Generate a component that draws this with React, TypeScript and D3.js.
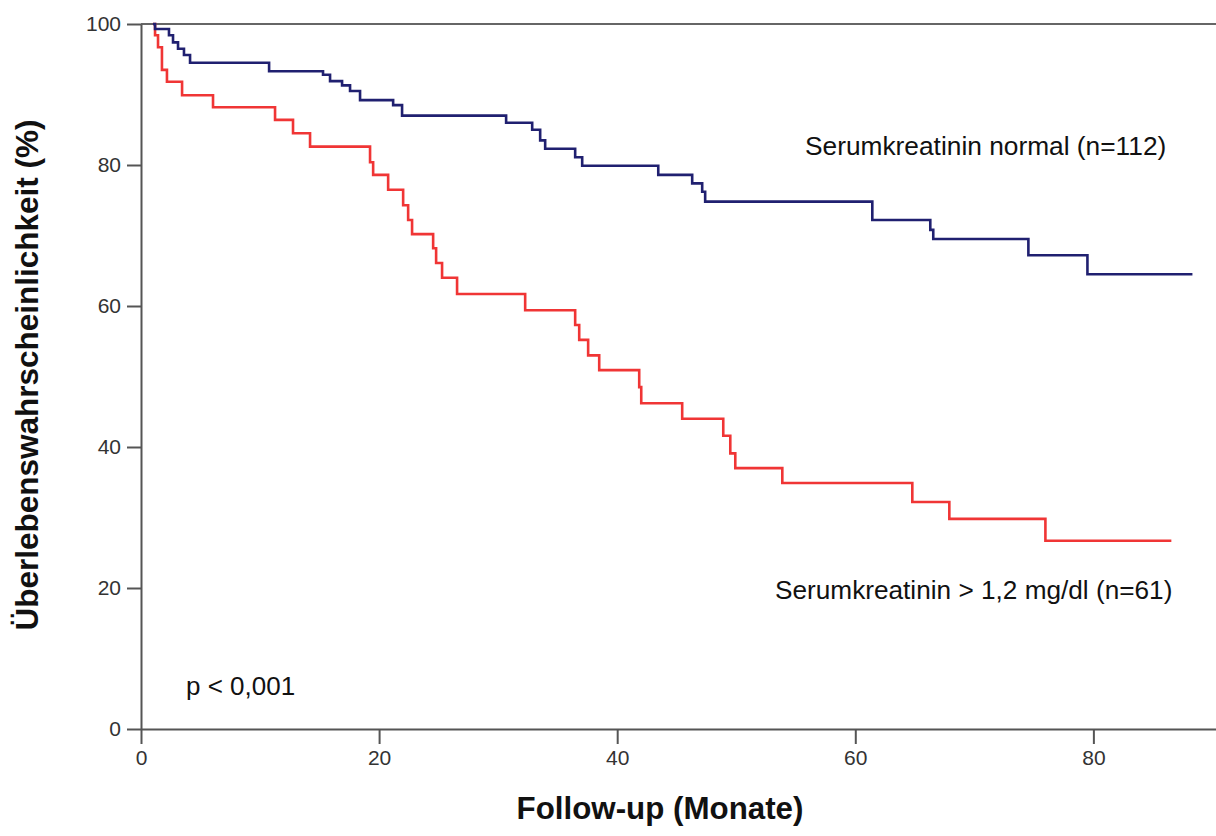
import { useEffect, useRef } from "react";
import * as d3 from "d3";

// Kaplan-Meier steps (months, survival %)
const normalTimes = [1.0, 1.18, 2.35, 2.69, 3.11, 3.61, 4.12, 10.76, 15.29, 15.88, 16.89, 17.56, 18.4, 21.18, 21.93, 30.67, 32.86, 33.53, 33.95, 36.47, 37.06, 43.45, 46.3, 47.14, 47.39, 61.43, 66.3, 66.55, 74.54, 79.5, 88.32];
const normalSurv = [100, 99.3, 98.4, 97.4, 96.5, 95.6, 94.5, 93.3, 92.8, 91.9, 91.3, 90.5, 89.2, 88.5, 87.0, 86.0, 85.0, 83.5, 82.3, 81.1, 79.9, 78.6, 77.4, 76.2, 74.8, 72.2, 70.8, 69.5, 67.2, 64.5, 64.5];

const highTimes = [1.0, 1.18, 1.43, 1.76, 2.18, 3.45, 6.05, 11.26, 12.77, 14.2, 19.24, 19.5, 20.76, 22.02, 22.44, 22.77, 24.54, 24.79, 25.29, 26.55, 32.27, 36.47, 36.81, 37.56, 38.49, 41.85, 42.02, 45.46, 48.91, 49.5, 49.92, 53.87, 64.79, 67.9, 75.97, 86.55];
const highSurv = [100, 98.4, 96.7, 93.5, 91.8, 89.9, 88.2, 86.4, 84.5, 82.6, 80.4, 78.6, 76.5, 74.3, 72.2, 70.2, 68.2, 66.1, 64.0, 61.7, 59.4, 57.3, 55.2, 53.0, 50.9, 48.5, 46.2, 44.0, 41.6, 39.1, 37.0, 34.9, 32.2, 29.8, 26.7, 26.7];

const xTicks = [0, 20, 40, 60, 80];
const yTicks = [0, 20, 40, 60, 80, 100];

const labelNormal = "Serumkreatinin normal (n=112)";
const labelHigh = "Serumkreatinin > 1,2 mg/dl (n=61)";
const pText = "p < 0,001";
const xTitle = "Follow-up (Monate)";
const yTitle = "Überlebenswahrscheinlichkeit (%)";

const FONT = "Arial, 'Liberation Sans', sans-serif";

function SurvivalChart() {
  const ref = useRef(null);

  useEffect(() => {
    const width = 1216;
    const height = 836;
    const left = 141;
    const top = 24;
    const bottom = 729;

    d3.select(ref.current).selectAll("*").remove();

    const svg = d3
      .select(ref.current)
      .append("svg")
      .attr("width", width)
      .attr("height", height)
      .style("display", "block");

    svg.append("rect").attr("width", width).attr("height", height).attr("fill", "#fff");

    const x = d3.scaleLinear().domain([0, 90.3]).range([left, width]);
    const y = d3.scaleLinear().domain([0, 100]).range([bottom, top]);

    // top frame line
    svg
      .append("line")
      .attr("x1", left)
      .attr("x2", width)
      .attr("y1", y(100))
      .attr("y2", y(100))
      .attr("stroke", "#666")
      .attr("stroke-width", 2);

    const xAxis = svg
      .append("g")
      .attr("transform", `translate(0,${bottom})`)
      .call(d3.axisBottom(x).tickValues(xTicks).tickSize(15).tickSizeOuter(0).tickPadding(6));

    const yAxis = svg
      .append("g")
      .attr("transform", `translate(${left},0)`)
      .call(d3.axisLeft(y).tickValues(yTicks).tickSize(14).tickSizeOuter(0).tickPadding(6));

    [xAxis, yAxis].forEach((g) => {
      g.select(".domain").attr("stroke", "#555").attr("stroke-width", 2);
      g.selectAll(".tick line").attr("stroke", "#555").attr("stroke-width", 2);
      g.selectAll(".tick text")
        .attr("fill", "#333")
        .style("font-family", FONT)
        .style("font-size", "21px");
    });

    const line = d3
      .line()
      .x((d) => x(d[0]))
      .y((d) => y(d[1]))
      .curve(d3.curveStepAfter);

    const highData = highTimes.map((t, i) => [t, highSurv[i]]);
    const normalData = normalTimes.map((t, i) => [t, normalSurv[i]]);

    svg
      .append("path")
      .datum(highData)
      .attr("fill", "none")
      .attr("stroke", "#f03535")
      .attr("stroke-width", 2.6)
      .attr("d", line);

    svg
      .append("path")
      .datum(normalData)
      .attr("fill", "none")
      .attr("stroke", "#202070")
      .attr("stroke-width", 2.6)
      .attr("d", line);

    const txt = (s, tx, ty, size, weight = "normal", anchor = "start") =>
      svg
        .append("text")
        .attr("x", tx)
        .attr("y", ty)
        .attr("text-anchor", anchor)
        .style("font-family", FONT)
        .style("font-size", `${size}px`)
        .style("font-weight", weight)
        .attr("fill", "#111")
        .text(s);

    txt(labelNormal, 805, 155, 26.3);
    txt(labelHigh, 775, 599, 26.2);
    txt(pText, 186, 695, 26);
    txt(xTitle, 660, 819, 31.3, "bold", "middle");

    svg
      .append("text")
      .attr("transform", `translate(38,375) rotate(-90)`)
      .attr("text-anchor", "middle")
      .style("font-family", FONT)
      .style("font-size", "31.5px")
      .style("font-weight", "bold")
      .attr("fill", "#111")
      .text(yTitle);
  }, []);

  return <div ref={ref} style={{ position: "absolute", left: 0, top: 0 }}></div>;
}

export default function App() {
  return <SurvivalChart />;
}
